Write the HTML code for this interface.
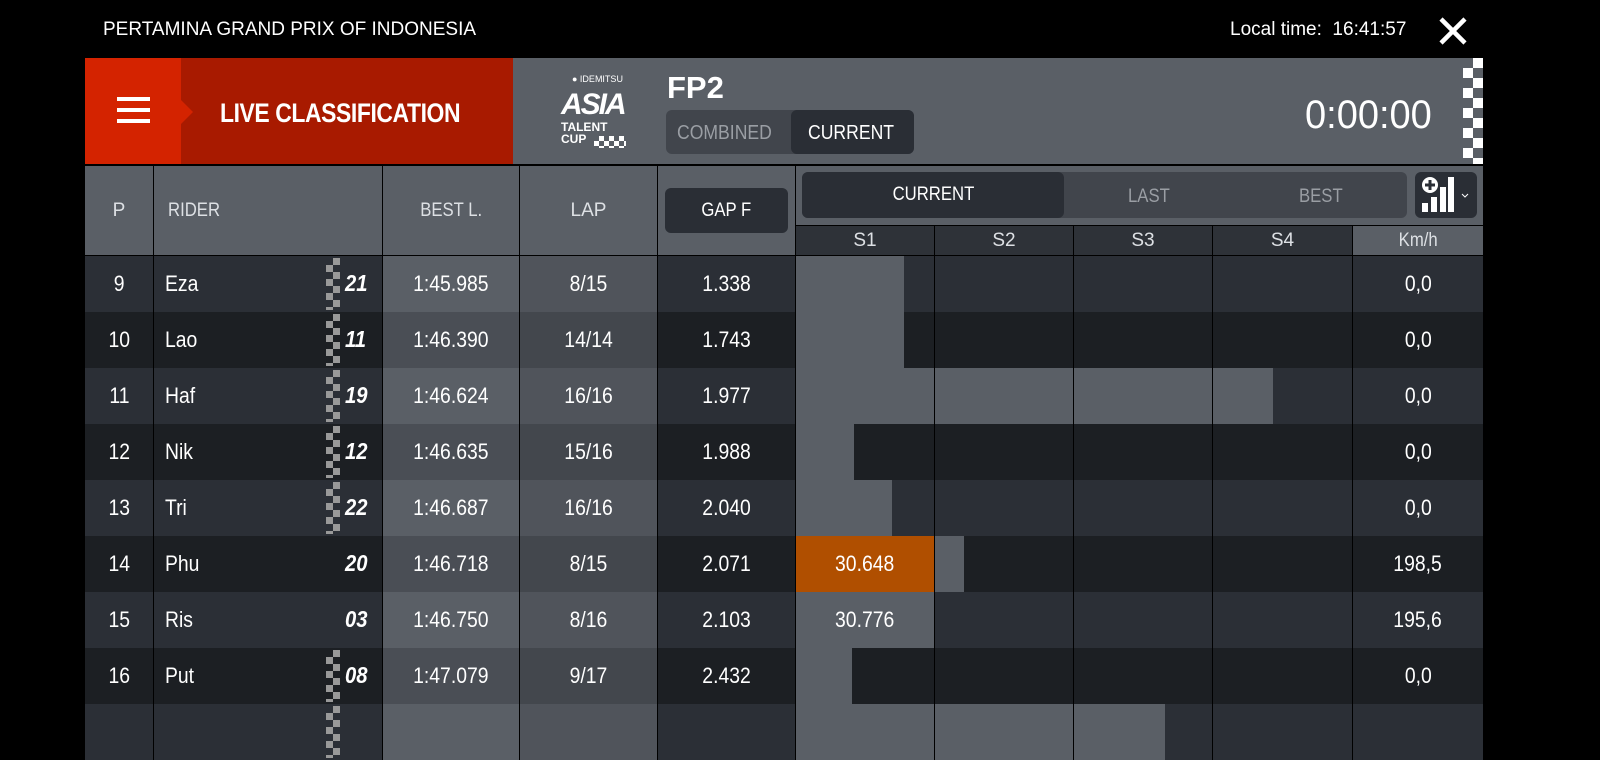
<!DOCTYPE html>
<html><head><meta charset="utf-8"><style>
*{margin:0;padding:0;box-sizing:border-box}
body{width:1600px;height:739px;background:#000;position:relative;overflow:hidden;font-family:"Liberation Sans Narrow","Liberation Sans",sans-serif;color:#fff}
.a{position:absolute}
.c{position:absolute;display:flex;align-items:center;justify-content:center;font-size:22px}
.n{display:inline-block;transform:scaleX(.88);transform-origin:center}
.nl{display:inline-block;transform:scaleX(.88);transform-origin:left}
.chk{position:absolute;width:14px;background-image:linear-gradient(45deg,#999 25%,transparent 25%,transparent 75%,#999 75%),linear-gradient(45deg,#999 25%,transparent 25%,transparent 75%,#999 75%);background-size:14px 14px;background-position:0 0,7px 7px}
.hd{position:absolute;background:#5a5f66;display:flex;align-items:center;justify-content:center;font-size:19px;color:#dde0e4}
</style></head><body>
<div class="a" style="left:103px;top:19px;font-family:'Liberation Sans',sans-serif;font-size:19px">PERTAMINA GRAND PRIX OF INDONESIA</div>
<div class="a" style="left:1230px;top:19px;font-family:'Liberation Sans',sans-serif;font-size:19px">Local time:&nbsp; 16:41:57</div>
<svg class="a" style="left:1438px;top:16px" width="30" height="30"><path d="M3 3L27 27M27 3L3 27" stroke="#fff" stroke-width="4.5"/></svg>

<div class="a" style="left:85px;top:58px;width:96px;height:106px;background:#d42300"></div>
<div class="a" style="left:181px;top:58px;width:332px;height:106px;background:#a81a00"></div>
<div class="a" style="left:181px;top:100px;width:0;height:0;border-top:12px solid transparent;border-bottom:12px solid transparent;border-left:12px solid #d42300"></div>
<div class="a" style="left:117px;top:97px;width:33px;height:4px;background:#fff;box-shadow:0 11px 0 #fff,0 22px 0 #fff"></div>
<div class="a" style="left:220px;top:98px;font-size:27px;font-weight:bold;letter-spacing:-0.5px"><span class="nl" style="transform:scaleX(.85)">LIVE CLASSIFICATION</span></div>
<div class="a" style="left:513px;top:58px;width:970px;height:106px;background:#5a5f66"></div>
<div class="a" style="left:572px;top:74px;font-size:9px">● IDEMITSU</div>
<div class="a" style="left:561px;top:88px;font-size:30px;font-weight:bold;font-style:italic;letter-spacing:-2px">ASIA</div>
<div class="a" style="left:561px;top:121px;font-size:12px;font-weight:bold;line-height:12px">TALENT<br>CUP</div>
<div class="chk" style="left:594px;top:136px;width:32px;height:12px;background-size:10px 10px;background-image:linear-gradient(45deg,#fff 25%,transparent 25%,transparent 75%,#fff 75%),linear-gradient(45deg,#fff 25%,transparent 25%,transparent 75%,#fff 75%);background-position:0 0,5px 5px"></div>
<div class="a" style="left:667px;top:70px;font-size:31px;font-weight:bold">FP2</div>
<div class="a" style="left:666px;top:110px;width:248px;height:44px;background:#41454c;border-radius:6px"></div>
<div class="a" style="left:791px;top:110px;width:123px;height:44px;background:#2a2e35;border-radius:6px"></div>
<div class="a" style="left:677px;top:122px;font-size:20px;color:#9a9ea4"><span class="nl">COMBINED</span></div>
<div class="a" style="left:808px;top:122px;font-size:20px"><span class="nl">CURRENT</span></div>
<div class="a" style="left:1305px;top:93px;font-size:40px;font-family:'Liberation Sans',sans-serif"><span class="nl" style="transform:scaleX(.95)">0:00:00</span></div>
<div class="a" style="left:1463px;top:58px;width:20px;height:106px;background-image:linear-gradient(45deg,#fff 25%,transparent 25%,transparent 75%,#fff 75%),linear-gradient(45deg,#fff 25%,transparent 25%,transparent 75%,#fff 75%);background-size:20px 20px;background-position:0 0,10px 10px"></div>

<div class="hd" style="left:85px;top:166px;width:68px;height:89px">P</div>
<div class="hd" style="left:154px;top:166px;width:228px;height:89px;justify-content:flex-start;padding-left:14px"><span class="nl">RIDER</span></div>
<div class="hd" style="left:383px;top:166px;width:136px;height:89px"><span class="n">BEST L.</span></div>
<div class="hd" style="left:520px;top:166px;width:137px;height:89px">LAP</div>
<div class="hd" style="left:658px;top:166px;width:137px;height:89px"></div>
<div class="a" style="left:665px;top:188px;width:123px;height:45px;background:#2a2e35;border-radius:6px;display:flex;align-items:center;justify-content:center;font-size:19px"><span class="n">GAP F</span></div>
<div class="hd" style="left:796px;top:166px;width:687px;height:59px"></div>
<div class="a" style="left:802px;top:172px;width:605px;height:46px;background:#41454c;border-radius:6px"></div>
<div class="a" style="left:802px;top:172px;width:262px;height:46px;background:#2a2e35;border-radius:6px;display:flex;align-items:center;justify-content:center;font-size:19px"><span class="n">CURRENT</span></div>
<div class="a" style="left:1128px;top:186px;font-size:19px;color:#9a9ea4"><span class="nl">LAST</span></div>
<div class="a" style="left:1299px;top:186px;font-size:19px;color:#9a9ea4"><span class="nl">BEST</span></div>
<div class="a" style="left:1415px;top:172px;width:62px;height:46px;background:#2a2e35;border-radius:6px"></div>
<svg class="a" style="left:1420px;top:175px" width="56" height="40"><rect x="2" y="28" width="6" height="9" fill="#fff"/><rect x="11" y="22" width="6" height="15" fill="#fff"/><rect x="20" y="12" width="6" height="25" fill="#fff"/><rect x="28" y="2" width="6" height="35" fill="#fff"/><circle cx="10" cy="10" r="8" fill="#fff"/><path d="M10 5v10M5 10h10" stroke="#2a2e35" stroke-width="3"/><path d="M42 19l3 3 3-3" stroke="#fff" fill="none"/></svg>
<div class="hd" style="left:796px;top:226px;width:138px;height:29px;background:#2e3238">S1</div>
<div class="hd" style="left:935px;top:226px;width:138px;height:29px;background:#2e3238">S2</div>
<div class="hd" style="left:1074px;top:226px;width:138px;height:29px;background:#2e3238">S3</div>
<div class="hd" style="left:1213px;top:226px;width:139px;height:29px;background:#2e3238">S4</div>
<div class="hd" style="left:1353px;top:226px;width:130px;height:29px"><span class="n">Km/h</span></div>

<div id="rows"></div>
<script>
var R=[["9","Eza","21","1:45.985","8/15","1.338",[[108,0]],"0,0",1],
["10","Lao","11","1:46.390","14/14","1.743",[[108,0]],"0,0",1],
["11","Haf","19","1:46.624","16/16","1.977",[[138],[138],[138],[60]],"0,0",1],
["12","Nik","12","1:46.635","15/16","1.988",[[58]],"0,0",1],
["13","Tri","22","1:46.687","16/16","2.040",[[96]],"0,0",1],
["14","Phu","20","1:46.718","8/15","2.071",[[138,"30.648",1],[29]],"198,5",0],
["15","Ris","03","1:46.750","8/16","2.103",[[138,"30.776"]],"195,6",0],
["16","Put","08","1:47.079","9/17","2.432",[[56]],"0,0",1],
["","","","","","",[[138],[138],[91]],"",1]];
var S=[[796,138],[935,138],[1074,138],[1213,139]];
var h="";
R.forEach(function(r,i){
var y=256+i*56,L=i%2==0;
var bg=L?"#2b2f36":"#1c1f23",be=L?"#5a5f66":"#4a4e55",la=L?"#50545b":"#43474d";
function c(x,w,col,t,ex,cl){h+='<div class="c" style="left:'+x+'px;top:'+y+'px;width:'+w+'px;height:56px;background:'+col+';'+(ex||'')+'"><span class="'+(cl||'n')+'">'+t+'</span></div>';}
c(85,68,bg,r[0]);
c(154,228,bg,r[1],"justify-content:flex-start;padding-left:11px","nl");
h+='<div class="a" style="left:345px;top:'+(y+14)+'px;font-size:23px;font-weight:bold;font-style:italic"><span class="nl">'+r[2]+'</span></div>';
if(r[8])h+='<div class="chk" style="left:326px;top:'+(y+2)+'px;height:52px"></div>';
c(383,136,be,r[3]);c(520,137,la,r[4]);c(658,137,bg,r[5]);
S.forEach(function(s,k){
c(s[0],s[1],bg,"");
var d=r[6][k];
if(d){h+='<div class="c" style="left:'+s[0]+'px;top:'+y+'px;width:'+d[0]+'px;height:56px;background:'+(d[2]?"#b04f00":"#5a5f66")+'"><span class="n">'+(typeof d[1]=="string"?d[1]:"")+'</span></div>';}
});
c(1353,130,bg,r[7]);
});
document.getElementById("rows").outerHTML=h;
</script>
</body></html>
